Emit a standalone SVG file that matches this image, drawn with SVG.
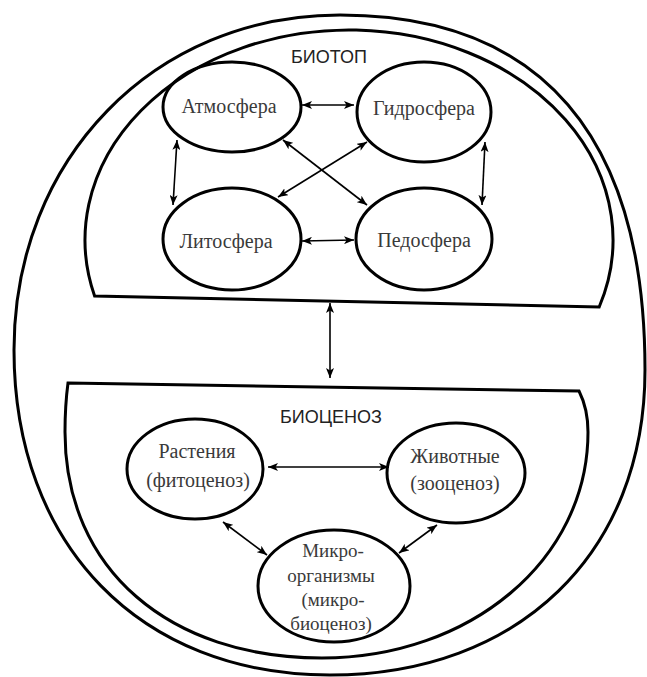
<svg xmlns="http://www.w3.org/2000/svg" width="647" height="677" viewBox="0 0 647 677">
<defs>
<marker id="ah" viewBox="0 0 10 8" refX="10" refY="4" markerWidth="10" markerHeight="8" markerUnits="userSpaceOnUse" orient="auto-start-reverse"><path d="M0,0 L10,4 L0,8 L2.5,4 z" fill="#000"/></marker>
</defs>
<style>
.frame{fill:none;stroke:#000;stroke-width:3}
.node ellipse{fill:none;stroke:#000;stroke-width:3}
.lbl{font-family:"Liberation Serif","Times New Roman",serif;font-size:20px;fill:#3a3a3a;text-anchor:middle}
.sm{font-size:19px}
.hdr{font-family:"Liberation Sans",Arial,sans-serif;font-size:18px;fill:#222;text-anchor:middle}
.conn line{stroke:#000;stroke-width:1.6;marker-start:url(#ah);marker-end:url(#ah)}
</style>
<rect width="647" height="677" fill="#fff"/>
<g id="ecosystem">
<path class="frame" d="M 340 15 C 541 15, 645 136, 645 370 C 645 553, 519 675, 330 675 C 140 675, 14 545, 14 350 C 14 159, 154 15, 340 15 Z"/>
</g>
<g id="biotope">
<path class="frame" d="M 94.6 296 A 264 210 0 1 1 599.2 307 Z"/>
<text class="hdr" x="329" y="63">БИОТОП</text>
</g>
<g id="biocenosis">
<path class="frame" d="M 68 383 L 579 391 C 586 405, 588 418, 588 432 C 588 560, 470 658, 322 658 C 170 658, 65 570, 65 432 C 65 415, 66 398, 68 383 Z"/>
<text class="hdr" x="331" y="423">БИОЦЕНОЗ</text>
</g>
<g id="atmosphere" class="node"><ellipse cx="232" cy="107" rx="69" ry="45"/><text class="lbl" x="229" y="113">Атмосфера</text></g>
<g id="hydrosphere" class="node"><ellipse cx="424" cy="112" rx="67" ry="50"/><text class="lbl" x="424" y="115">Гидросфера</text></g>
<g id="lithosphere" class="node"><ellipse cx="232" cy="239" rx="69" ry="51"/><text class="lbl" x="226" y="248">Литосфера</text></g>
<g id="pedosphere" class="node"><ellipse cx="424" cy="239" rx="68" ry="51"/><text class="lbl" x="424" y="247">Педосфера</text></g>
<g id="plants" class="node"><ellipse cx="195" cy="469" rx="68" ry="50"/><text class="lbl" x="197" y="458">Растения</text><text class="lbl" x="198" y="487">(фитоценоз)</text></g>
<g id="animals" class="node"><ellipse cx="456" cy="473" rx="69" ry="50"/><text class="lbl" x="455" y="463">Животные</text><text class="lbl" x="455" y="490">(зооценоз)</text></g>
<g id="microorganisms" class="node"><ellipse cx="334" cy="586" rx="76" ry="56"/><text class="lbl sm" x="333" y="557">Микро-</text><text class="lbl sm" x="331" y="582">организмы</text><text class="lbl sm" x="333" y="606">(микро-</text><text class="lbl sm" x="331" y="630">биоценоз)</text></g>
<g id="connectors" class="conn">
<line x1="302" y1="105" x2="354" y2="105"/>
<line x1="302" y1="241" x2="354" y2="240"/>
<line x1="177" y1="140" x2="173" y2="205"/>
<line x1="485" y1="142" x2="482" y2="205"/>
<line x1="283" y1="140" x2="367" y2="205"/>
<line x1="367" y1="142" x2="278" y2="197"/>
<line x1="330" y1="303" x2="330" y2="378"/>
<line x1="268" y1="467" x2="389" y2="467"/>
<line x1="223" y1="522" x2="267" y2="555"/>
<line x1="437" y1="525" x2="399" y2="553"/>
</g>
</svg>
